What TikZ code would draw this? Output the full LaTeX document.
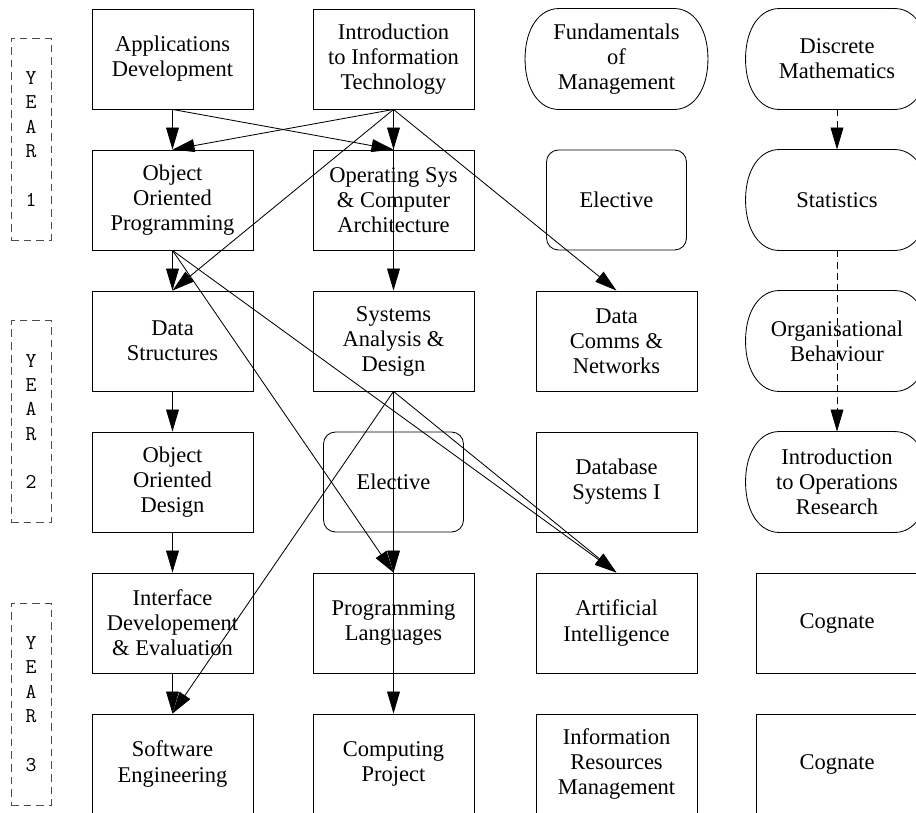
\documentclass[tikz,border=0pt]{standalone}
\usepackage{fontspec}
\setmainfont{Liberation Serif}
\usetikzlibrary{arrows.meta}
\def\minoroutline(#1){\draw[line width=0.6pt] ([xshift=-1.45cm]#1.north) -- ([xshift=1.45cm]#1.north) .. controls +(0.45cm,0) and +(0,0.8cm) .. (#1.east) .. controls +(0,-0.8cm) and +(0.45cm,0) .. ([xshift=1.45cm]#1.south) -- ([xshift=-1.45cm]#1.south) .. controls +(-0.45cm,0) and +(0,-0.8cm) .. (#1.west) .. controls +(0,0.8cm) and +(-0.45cm,0) .. cycle;}

\begin{document}
\begin{tikzpicture}[x=0.025cm,y=-0.025cm,
		course/.style={draw,line width=0.6pt,minimum width=4.025cm,minimum height=2.5cm,align=center,inner sep=0pt,font=\fontsize{16pt}{17.8pt}\selectfont},
		electivebox/.style={course,rounded corners=0.3cm,minimum width=3.5cm},
		minorbox/.style={course,draw=none,minimum width=4.55cm},
		yearbox/.style={draw=black!70,dash pattern=on 5.5pt off 3.5pt,line width=0.6pt,minimum width=1cm,minimum height=5.05cm,align=center,inner sep=0pt,font=\ttfamily\fontsize{15pt}{17.3pt}\selectfont},
		prereq/.style={line width=0.6pt,-{Triangle[length=0.55cm,width=0.32cm]}},
		coreq/.style={prereq,dash pattern=on 5pt off 3pt}]
		%%%%% START %%%%%
		
		\clip (0, 0) rectangle (916, 812);
		
		\node[yearbox] (year1) at (31, 139) {Y\\E\\A\\R\\[17.3pt]1};
		\node[yearbox] (year2) at (31, 421.5) {Y\\E\\A\\R\\[17.3pt]2};
		\node[yearbox] (year3) at (31, 704) {Y\\E\\A\\R\\[17.3pt]3};
		
		% year 1
		\node[course] (appdev) at (172.5, 59) {Applications\\Development};
		\node[course] (introit) at (393.5, 59) {Introduction\\to Information\\Technology};
		\node[minorbox] (fundmgmt) at (616.5, 59) {Fundamentals\\of\\Management};
		\node[minorbox] (discrete) at (837, 59) {Discrete\\Mathematics};
		
		\node[course] (oop) at (172.5, 200) {Object\\Oriented\\Programming};
		\node[course] (opsys) at (393.5, 200) {Operating Sys\\\& Computer\\Architecture};
		\node[electivebox] (elective1) at (616.5, 200) {Elective};
		\node[minorbox] (stats) at (837, 200) {Statistics};
		
		% year 2
		\node[course] (datastruct) at (172.5, 341) {Data\\Structures};
		\node[course] (sad) at (393.5, 341) {Systems\\Analysis \&\\Design};
		\node[course] (datacomms) at (616.5, 341) {Data\\Comms \&\\Networks};
		\node[minorbox] (orgbeh) at (837, 341) {Organisational\\Behaviour};
		
		\node[course] (ood) at (172.5, 482) {Object\\Oriented\\Design};
		\node[electivebox] (elective2) at (393.5, 482) {Elective};
		\node[course] (dbsys) at (616.5, 482) {Database\\Systems I};
		\node[minorbox] (introor) at (837, 482) {Introduction\\to Operations\\Research};
		
		% year 3
		\node[course] (intdev) at (172.5, 623) {Interface\\Developement\\\& Evaluation};
		\node[course] (proglang) at (393.5, 623) {Programming\\Languages};
		\node[course] (ai) at (616.5, 623) {Artificial\\Intelligence};
		\node[course] (cognate1) at (837, 623) {Cognate};
		
		\node[course] (softeng) at (172.5, 764) {Software\\Engineering};
		\node[course] (compproj) at (393.5, 764) {Computing\\Project};
		\node[course] (irm) at (616.5, 764) {Information\\Resources\\Management};
		\node[course] (cognate2) at (837, 764) {Cognate};
		
		\minoroutline(fundmgmt)
		\minoroutline(discrete)
		\minoroutline(stats)
		\minoroutline(orgbeh)
		\minoroutline(introor)
		
		% prerequisites
		\draw[prereq] (appdev.south) -- (oop.north);
		\draw[prereq] (appdev.south) -- (opsys.north);
		\draw[prereq] (introit.south) -- (oop.north);
		\draw[prereq] (introit.south) -- (opsys.north);
		\draw[prereq] (introit.south) -- (sad.north);
		\draw[prereq] (introit.south) -- (datastruct.north);
		\draw[prereq] (introit.south) -- (datacomms.north);
		
		\draw[prereq] (oop.south) -- (datastruct.north);
		\draw[prereq] (oop.south) -- (proglang.north);
		\draw[prereq] (oop.south) -- (ai.north);
		
		\draw[prereq] (datastruct.south) -- (ood.north);
		\draw[prereq] (ood.south) -- (intdev.north);
		\draw[prereq] (intdev.south) -- (softeng.north);
		
		\draw[prereq] (sad.south) -- (proglang.north);
		\draw[prereq] (sad.south) -- (compproj.north);
		\draw[prereq] (sad.south) -- (softeng.north);
		\draw[prereq] (sad.south) -- (ai.north);
		
		\draw[coreq] (discrete.south) -- (stats.north);
		\draw[coreq] (stats.south) -- (introor.north);
		
		%%%%% END %%%%%
	\end{tikzpicture}
\end{document}
